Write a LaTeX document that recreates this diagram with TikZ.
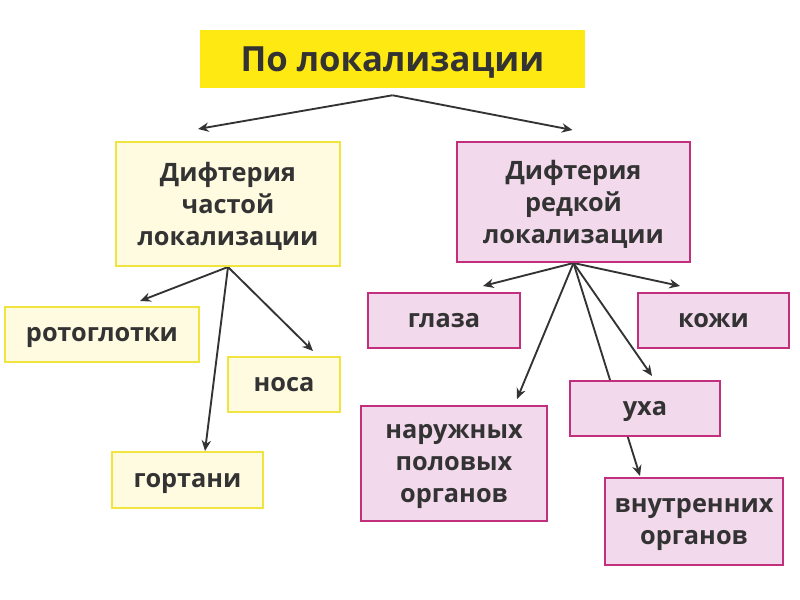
\documentclass[tikz,border=0pt]{standalone}
\usepackage{fontspec}
\setmainfont{Open Sans}
\usepackage{xcolor}
\usetikzlibrary{arrows.meta, calc, backgrounds}

\definecolor{titlefill}{HTML}{FFE912}
\definecolor{oftfill}{HTML}{FFFBE1}
\definecolor{oftdraw}{HTML}{F2E43E}
\definecolor{rarefill}{HTML}{F2D9EC}
\definecolor{raredraw}{HTML}{C2307D}
\definecolor{ink}{HTML}{333333}

\begin{document}
\begin{tikzpicture}[x=0.75pt, y=-0.75pt,
    box/.style={rectangle, inner sep=0pt, align=center, text=ink, text depth=0pt, font=\bfseries\fontsize{19}{24}\selectfont},
    often/.style={box, draw=oftdraw, fill=oftfill, line width=1.5pt},
    rare/.style={box, draw=raredraw, fill=rarefill, line width=1.5pt},
    arrow/.style={draw=ink, line width=1.4pt, -{Stealth[length=8pt, width=7pt]}}]

    \useasboundingbox (0,0) rectangle (800,600);

    % Title
    \node [box, fill=titlefill, minimum width=288.75pt, minimum height=43.5pt,
           font=\bfseries\fontsize{26}{30}\selectfont] (title) at (392.5,59) {По локализации};

    % Groups
    \node [often, minimum width=168pt, minimum height=93pt] (often) at (228,204) {Дифтерия\\частой\\локализации};
    \node [rare, minimum width=174.75pt, minimum height=90pt] (rare) at (573.5,202) {Дифтерия\\редкой\\локализации};

    % Frequent
    \node [often, minimum width=145.5pt, minimum height=41.25pt] (oro) at (102,334.5) {ротоглотки};
    \node [often, minimum width=84pt, minimum height=41.25pt] (nose) at (284,384.5) {носа};
    \node [often, minimum width=113.25pt, minimum height=42pt] (larynx) at (187.5,480) {гортани};

    % Rare
    \node [rare, minimum width=114pt, minimum height=41.25pt] (eye) at (444,320.5) {глаза};
    \node [rare, minimum width=113.25pt, minimum height=41.25pt] (skin) at (713.5,320.5) {кожи};
    \node [rare, minimum width=139.5pt, minimum height=86.25pt] (genit) at (454,463.5) {наружных\\половых\\органов};
    \node [rare, minimum width=112.5pt, minimum height=41.25pt] (ear) at (645,408.5) {уха};
    \node [rare, minimum width=133.5pt, minimum height=65.25pt] (inner) at (694,521.5) {внутренних\\органов};

    % Arrows
    \begin{pgfonlayer}{background}
    \draw [arrow] ($(title.south)+(0,7)$) -- ($(often.north)+(-30,-12)$);
    \draw [arrow] ($(title.south)+(0,7)$) -- ($(rare.north)+(-1,-11)$);
    \draw [arrow] (often.south) -- ($(oro.north)+(38,-5)$);
    \draw [arrow] (often.south) -- ($(nose.north)+(29,-5)$);
    \draw [arrow] (often.south) -- ($(larynx.north)+(17.5,0)$);
    \draw [arrow] (rare.south) -- ($(eye.north)+(39,-6)$);
    \draw [arrow] (rare.south) -- ($(skin.north)+(-33.5,-6)$);
    \draw [arrow] (rare.south) -- ($(genit.north)+(63,-6)$);
    \draw [arrow] (rare.south) -- ($(ear.north)+(7,-4)$);
    \draw [arrow] (rare.south) -- ($(inner.north)+(-54,-1)$);
    \end{pgfonlayer}
\end{tikzpicture}
\end{document}
